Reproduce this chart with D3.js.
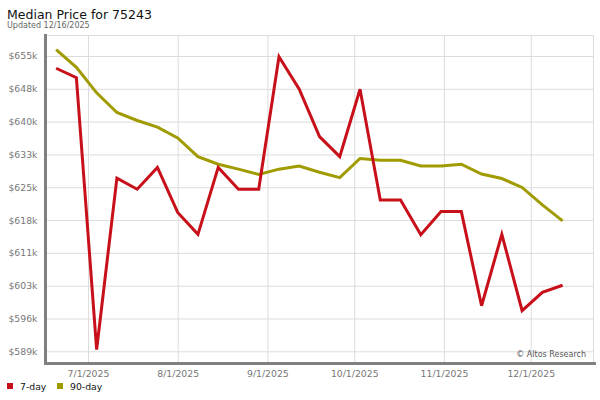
<!DOCTYPE html>
<html>
<head>
<meta charset="utf-8">
<script src="https://cdn.jsdelivr.net/npm/d3@7"></script>
<style>
  body { margin: 0; background: #fff; }
  svg { display: block; font-family: "DejaVu Sans", sans-serif; }
</style>
</head>
<body>
<svg id="chart" width="600" height="400"></svg>
<script>
const dates = ["2025-06-20","2025-06-27","2025-07-04","2025-07-11","2025-07-18","2025-07-25",
  "2025-08-01","2025-08-08","2025-08-15","2025-08-22","2025-08-29","2025-09-05","2025-09-12",
  "2025-09-19","2025-09-26","2025-10-03","2025-10-10","2025-10-17","2025-10-24","2025-10-31",
  "2025-11-07","2025-11-14","2025-11-21","2025-11-28","2025-12-05","2025-12-12"];
const sevenDay = [652.6,650.5,589.6,628.0,625.5,630.4,620.3,615.4,630.4,625.5,625.5,655.2,647.9,
  637.3,632.8,647.9,623.1,623.1,615.3,620.5,620.5,599.4,615.4,598.3,602.4,604.0];
const ninetyDay = [656.8,652.8,647.1,642.7,640.9,639.4,637.0,632.8,631.1,630.0,628.8,630.0,630.7,
  629.3,628.1,632.4,632.0,632.0,630.7,630.7,631.1,628.9,627.9,625.9,622.0,618.4];
const yTickValues = [589.2,596.55,603.9,611.25,618.6,625.95,633.3,640.65,648.0,655.35];
const yTickLabels = ["$589k","$596k","$603k","$611k","$618k","$625k","$633k","$640k","$648k","$655k"];
const xTickDates = ["2025-07-01","2025-08-01","2025-09-01","2025-10-01","2025-11-01","2025-12-01"];
const xTickLabels = ["7/1/2025","8/1/2025","9/1/2025","10/1/2025","11/1/2025","12/1/2025"];
const seriesNames = ["7-day","90-day"];
const colors = ["#c8101a","#a09b00"];

const parse = d3.timeParse("%Y-%m-%d");
const svg = d3.select("#chart");
const L = 46, R = 593, T = 35, B = 363;

const x = d3.scaleTime()
  .domain([new Date(2025,5,16,12), new Date(2025,11,22,12)])
  .range([L, R]);
const y = d3.scaleLinear().domain([586.58, 660.05]).range([B, T]);

// title
svg.append("text").attr("x", 7).attr("y", 19).attr("font-size", 12.5).attr("fill", "#111")
  .text("Median Price for 75243");
svg.append("text").attr("x", 7).attr("y", 27.5).attr("font-size", 8).attr("fill", "#666")
  .text("Updated 12/16/2025");

// grid
const gy = svg.append("g").attr("transform", `translate(${L},0)`)
  .call(d3.axisLeft(y).tickValues(yTickValues).tickSize(-(R - L)).tickFormat(""));
gy.select(".domain").remove();
gy.selectAll("line").attr("stroke", "#dcdcdc");

const gx = svg.append("g").attr("transform", `translate(0,${B})`)
  .call(d3.axisBottom(x).tickValues(xTickDates.map(parse)).tickSize(-(B - T)).tickFormat(""));
gx.select(".domain").remove();
gx.selectAll("line").attr("stroke", "#dcdcdc");

// top & right border
svg.append("line").attr("x1", L).attr("x2", R + 0.5).attr("y1", T + 0.5).attr("y2", T + 0.5).attr("stroke", "#dcdcdc");
svg.append("line").attr("x1", R + 0.5).attr("x2", R + 0.5).attr("y1", T).attr("y2", B).attr("stroke", "#dcdcdc");

// axis labels
const yl = svg.append("g").attr("transform", `translate(${L},0)`)
  .call(d3.axisLeft(y).tickValues(yTickValues).tickSize(0).tickPadding(8.5)
    .tickFormat((d, i) => yTickLabels[i]));
yl.select(".domain").remove();
yl.selectAll("text").attr("font-size", 9.3).attr("fill", "#777").attr("font-family", "DejaVu Sans");

const xl = svg.append("g").attr("transform", `translate(0,${B})`)
  .call(d3.axisBottom(x).tickValues(xTickDates.map(parse)).tickSize(0).tickPadding(7)
    .tickFormat((d, i) => xTickLabels[i]));
xl.select(".domain").remove();
xl.selectAll("text").attr("font-size", 9.3).attr("fill", "#777").attr("font-family", "DejaVu Sans");

// frame bars
svg.append("rect").attr("x", 44).attr("y", 34).attr("width", 3).attr("height", 331).attr("fill", "#808080");
svg.append("rect").attr("x", 44).attr("y", 362).attr("width", 552).attr("height", 3).attr("fill", "#808080");

// watermark
svg.append("text").attr("x", 586).attr("y", 357).attr("text-anchor", "end")
  .attr("font-size", 8).attr("fill", "#555").text("© Altos Research");

// lines
const line = d3.line().x((d, i) => x(parse(dates[i]))).y(d => y(d));
[ninetyDay, sevenDay].forEach((s, k) => {
  const idx = k === 0 ? 1 : 0;
  svg.append("path").datum(s).attr("d", line).attr("fill", "none")
    .attr("stroke", colors[idx]).attr("stroke-width", 3).attr("stroke-linejoin", "miter");
});

// legend
const legX = [7, 57];
seriesNames.forEach((n, i) => {
  svg.append("rect").attr("x", legX[i]).attr("y", 383).attr("width", 6).attr("height", 6).attr("fill", colors[i]);
  svg.append("text").attr("x", legX[i] + 13).attr("y", 390).attr("font-size", 9.3).attr("fill", "#111").text(n);
});
</script>
</body>
</html>
